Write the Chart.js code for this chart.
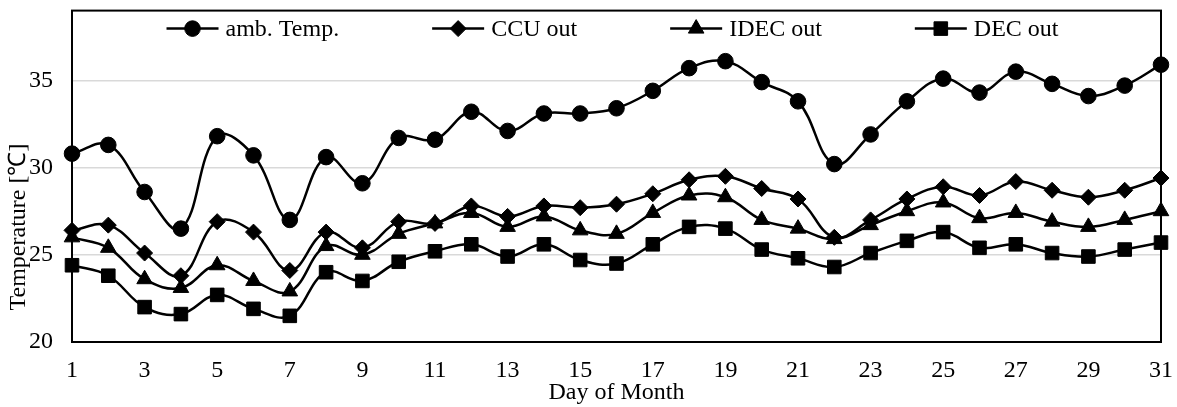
<!DOCTYPE html>
<html><head><meta charset="utf-8">
<script src="https://cdn.jsdelivr.net/npm/chart.js@4.4.1/dist/chart.umd.min.js"></script>
<style>html,body{margin:0;padding:0;background:#fff}#wrap{width:1177px;height:407px}</style>
</head><body><div id="wrap"><canvas id="c" width="1177" height="407"></canvas></div>
<script>
const days = ['1','2','3','4','5','6','7','8','9','10','11','12','13','14','15','16','17','18','19','20','21','22','23','24','25','26','27','28','29','30','31'];
const ambTemp = [30.8,31.3,28.6,26.5,31.8,30.7,27.0,30.6,29.1,31.7,31.6,33.2,32.1,33.1,33.1,33.4,34.4,35.7,36.1,34.9,33.8,30.2,31.9,33.8,35.1,34.3,35.5,34.8,34.1,34.7,35.9];
const ccuOut = [26.4,26.7,25.1,23.8,26.9,26.3,24.1,26.3,25.4,26.9,26.8,27.8,27.2,27.8,27.7,27.9,28.5,29.3,29.5,28.8,28.2,26.0,27.0,28.2,28.9,28.4,29.2,28.7,28.3,28.7,29.4];
const idecOut = [26.0,25.4,23.6,23.1,24.4,23.5,22.9,25.5,25.0,26.2,26.8,27.4,26.6,27.2,26.4,26.2,27.4,28.4,28.3,27.0,26.5,25.9,26.7,27.5,28.0,27.1,27.4,26.9,26.6,27.0,27.5];
const decOut = [24.4,23.8,22.0,21.6,22.7,21.9,21.5,24.0,23.5,24.6,25.2,25.6,24.9,25.6,24.7,24.5,25.6,26.6,26.5,25.3,24.8,24.3,25.1,25.8,26.3,25.4,25.6,25.1,24.9,25.3,25.7];
const seriesNames = ['amb. Temp.','CCU out','IDEC out','DEC out'];
const yTicks = [20,25,30,35];
const yTitle = 'Temperature [℃]';
const xTitle = 'Day of Month';

const FONT = "'Liberation Serif','Times New Roman',serif";
const FS = 24;
const styles = [
  {pointStyle:'circle', radius:7.8},
  {pointStyle:'rectRot', radius:8},
  {pointStyle:'triangle', radius:9},
  {pointStyle:'rect', radius:9.6}
];
const seriesData = [ambTemp, ccuOut, idecOut, decOut];

function drawMarker(ctx, style, r, x, y) {
  ctx.beginPath();
  if (style === 'circle') {
    ctx.arc(x, y, r, 0, Math.PI*2);
  } else if (style === 'rectRot') {
    ctx.moveTo(x, y - r); ctx.lineTo(x + r, y); ctx.lineTo(x, y + r); ctx.lineTo(x - r, y);
  } else if (style === 'triangle') {
    for (let k = 0; k < 3; k++) {
      const a = k * 2*Math.PI/3;
      const px = x + Math.sin(a)*r, py = y - Math.cos(a)*r;
      if (k === 0) ctx.moveTo(px, py); else ctx.lineTo(px, py);
    }
  } else {
    const s = Math.SQRT1_2 * r;
    ctx.rect(x - s, y - s, 2*s, 2*s);
  }
  ctx.closePath();
  ctx.fill();
  ctx.stroke();
}

const framePlugin = {
  id: 'frame',
  beforeDatasetsDraw(chart) {
    const {ctx, chartArea: a} = chart;
    ctx.save();
    ctx.strokeStyle = '#000';
    ctx.lineWidth = 2;
    ctx.strokeRect(a.left, a.top, a.right - a.left, a.bottom - a.top);
    ctx.restore();
  },
  afterDraw(chart) {
    const {ctx, chartArea: a} = chart;
    ctx.save();
    // legend
    ctx.font = FS + 'px ' + FONT;
    ctx.textBaseline = 'middle';
    ctx.textAlign = 'left';
    const lineLen = 52, txtGap = 7, itemGap = 93;
    const widths = chart.data.datasets.map(d => lineLen + txtGap + ctx.measureText(d.label).width);
    const total = widths.reduce((s, w) => s + w, 0) + itemGap * (widths.length - 1);
    let x = (a.left + a.right) / 2 - 4 - total / 2;
    const y = a.top + 18;
    chart.data.datasets.forEach((d, i) => {
      ctx.strokeStyle = '#000'; ctx.fillStyle = '#000'; ctx.lineWidth = 2.5;
      ctx.beginPath(); ctx.moveTo(x, y); ctx.lineTo(x + lineLen, y); ctx.stroke();
      ctx.lineWidth = 1;
      drawMarker(ctx, d.pointStyle, d.pointRadius, x + lineLen/2, y);
      ctx.fillText(d.label, x + lineLen + txtGap, y + 1);
      x += widths[i] + itemGap;
    });
    // y axis title
    ctx.translate(19, a.bottom - 115);
    ctx.rotate(-Math.PI/2);
    ctx.textAlign = 'center';
    ctx.fillStyle = '#000';
    ctx.fillText(yTitle, 0, 0);
    ctx.restore();
  }
};

function noPad(s) { s.paddingLeft = 0; s.paddingRight = 0; s.paddingTop = 0; s.paddingBottom = 0; }

new Chart(document.getElementById('c'), {
  type: 'line',
  data: {
    labels: days,
    datasets: seriesData.map((vals, i) => ({
      label: seriesNames[i],
      data: vals,
      borderColor: '#000',
      backgroundColor: '#000',
      borderWidth: 2.5,
      pointStyle: styles[i].pointStyle,
      pointRadius: styles[i].radius,
      pointHoverRadius: styles[i].radius,
      pointBorderWidth: 1,
      pointBackgroundColor: '#000',
      pointBorderColor: '#000',
      tension: 0.4,
      fill: false
    }))
  },
  options: {
    responsive: false,
    animation: false,
    devicePixelRatio: 1,
    layout: {padding: {left: 0, right: 16, top: 7, bottom: 0}},
    plugins: {legend: {display: false}, tooltip: {enabled: false}},
    scales: {
      x: {
        type: 'category',
        offset: false,
        grid: {display: false, drawTicks: false},
        border: {display: false},
        ticks: {
          autoSkip: false, maxRotation: 0, minRotation: 0,
          color: '#000', font: {family: FONT, size: FS}, padding: 14,
          callback: (v, i) => (i % 2 === 0 ? days[i] : '')
        },
        title: {display: true, text: xTitle, color: '#000', font: {family: FONT, size: FS}, padding: {top: 0, bottom: 0}},
        afterFit: s => { s.height = 65; noPad(s); }
      },
      y: {
        min: 20, max: 39,
        grid: {color: '#d9d9d9', lineWidth: 1.5, drawTicks: false},
        border: {display: false},
        afterBuildTicks: s => { s.ticks = yTicks.map(v => ({value: v})); },
        ticks: {color: '#000', font: {family: FONT, size: FS}, padding: 19},
        afterFit: s => { s.width = 72; noPad(s); }
      }
    }
  },
  plugins: [framePlugin]
});
</script>
</body></html>
